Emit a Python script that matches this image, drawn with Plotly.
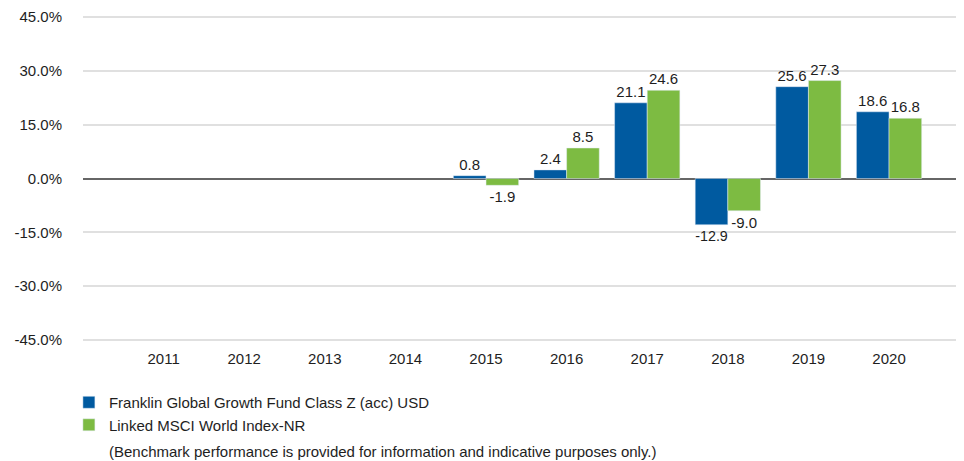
import plotly.graph_objects as go

years = ["2011", "2012", "2013", "2014", "2015", "2016", "2017", "2018", "2019", "2020"]
fund = [None, None, None, None, 0.8, 2.4, 21.1, -12.9, 25.6, 18.6]
bench = [None, None, None, None, -1.9, 8.5, 24.6, -9.0, 27.3, 16.8]
fund_name = "Franklin Global Growth Fund Class Z (acc) USD"
bench_name = "Linked MSCI World Index-NR"
y_ticks = [-45, -30, -15, 0, 15, 30, 45]
y_tick_text = ["-45.0%", "-30.0%", "-15.0%", "0.0%", "15.0%", "30.0%", "45.0%"]
footnote = "(Benchmark performance is provided for information and indicative purposes only.)"

FONT = "Liberation Sans, Arial, sans-serif"
TXT = "#1e1e1e"

def labels(vals):
    return [("" if v is None else f"{v:.1f}") for v in vals]

fig = go.Figure()
fig.add_trace(go.Bar(
    x=years, y=fund, name=fund_name, marker_color="#005AA0",
    text=labels(fund), textposition="outside", cliponaxis=False,
    textfont=dict(size=15, color=TXT, family=FONT),
))
fig.add_trace(go.Bar(
    x=years, y=bench, name=bench_name, marker_color="#7DBB42",
    text=labels(bench), textposition="outside", cliponaxis=False,
    textfont=dict(size=15, color=TXT, family=FONT),
))

# the page body adds an 8px offset, so margins are compensated
fig.update_layout(
    width=964, height=461,
    margin=dict(l=75, r=8, t=8, b=128, autoexpand=False),
    paper_bgcolor="white", plot_bgcolor="white",
    font=dict(family=FONT, size=15, color=TXT),
    barmode="group", bargap=0.19, bargroupgap=0,
    showlegend=True,
    legend=dict(
        orientation="v", x=-0.016, xanchor="left",
        yref="container", y=0.18, yanchor="top",
        font=dict(size=15, color=TXT, family=FONT),
        traceorder="normal", itemwidth=30, tracegroupgap=0,
        bgcolor="rgba(0,0,0,0)",
    ),
    xaxis=dict(
        type="category", range=[-1, 9.93], showgrid=False, showline=False,
        ticks="", tickfont=dict(size=15, color=TXT), automargin=False,
        ticklabelstandoff=7,
    ),
    yaxis=dict(
        range=[-45.3, 45.3], tickvals=y_ticks, ticktext=y_tick_text,
        showgrid=True, gridcolor="#e0e0e0", gridwidth=1.5,
        zeroline=True, zerolinecolor="#666666", zerolinewidth=2,
        showline=False, ticks="", ticklabelstandoff=20, automargin=False,
        tickfont=dict(size=15, color=TXT),
    ),
    annotations=[dict(
        text=footnote, xref="paper", yref="paper", x=0.027, y=-0.3415,
        xanchor="left", yanchor="middle", showarrow=False,
        font=dict(size=15, color=TXT, family=FONT),
    )],
)

fig.write_html("out.html")
